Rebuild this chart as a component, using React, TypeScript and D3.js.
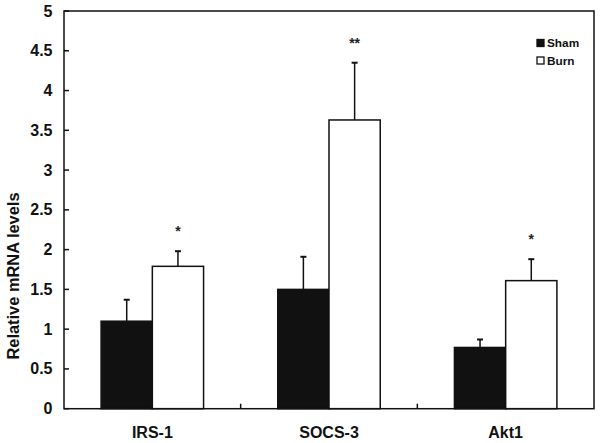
import React from "react";
import * as d3 from "d3";

const categories = ["IRS-1", "SOCS-3", "Akt1"];
const series = ["Sham", "Burn"];
const shamValues = [1.1, 1.5, 0.77];
const shamErrors = [0.27, 0.41, 0.1];
const burnValues = [1.79, 3.63, 1.61];
const burnErrors = [0.19, 0.72, 0.27];
const significance = ["*", "**", "*"];
const yTicks = [0, 0.5, 1, 1.5, 2, 2.5, 3, 3.5, 4, 4.5, 5];

const W = 600, H = 443;
const L = 64, R = 594, T = 11, B = 408.7;
const font = "Arial, 'Liberation Sans', sans-serif";

export default function App() {
  const x = d3.scaleBand<string>().domain(categories).range([L, R]);
  const y = d3.scaleLinear().domain([0, 5]).range([B, T]);
  const bw = x.bandwidth() * 0.29;
  const fills = ["#111", "#fff"];
  const data = [
    { v: shamValues, e: shamErrors },
    { v: burnValues, e: burnErrors },
  ];
  return (
    <svg width={W} height={H} style={{ position: "absolute", left: 0, top: 0 }}>
      <rect x={0} y={0} width={W} height={H} fill="#fff" />
      {categories.map((c, i) => {
        const cx = x(c)! + x.bandwidth() / 2;
        return (
          <g key={c}>
            {data.map((s, j) => {
              const x0 = j === 0 ? cx - bw : cx;
              const top = y(s.v[i]);
              const et = y(s.v[i] + s.e[i]);
              const mx = x0 + bw / 2;
              return (
                <g key={j}>
                  <line x1={mx} x2={mx} y1={top} y2={et} stroke="#111" strokeWidth={1.5} />
                  <line x1={mx - 3} x2={mx + 3} y1={et} y2={et} stroke="#111" strokeWidth={2} />
                  <rect x={x0} y={top} width={bw} height={B - top} fill={fills[j]} stroke="#111" strokeWidth={1.5} />
                </g>
              );
            })}
            <text x={cx + bw / 2} y={y(burnValues[i] + burnErrors[i]) - 15} textAnchor="middle" fontFamily={font} fontSize={14} fontWeight="bold" fill="#222">
              {significance[i]}
            </text>
            <text x={cx} y={437.5} textAnchor="middle" fontFamily={font} fontSize={16} fontWeight="bold" fill="#111">
              {c}
            </text>
          </g>
        );
      })}
      {categories.slice(1).map((c) => (
        <line key={c} x1={x(c)!} x2={x(c)!} y1={B} y2={B - 5} stroke="#111" strokeWidth={1.5} />
      ))}
      <rect x={L} y={T} width={R - L} height={B - T} fill="none" stroke="#111" strokeWidth={1.5} />
      {yTicks.map((t) => (
        <g key={t}>
          <line x1={L} x2={L + 5} y1={y(t)} y2={y(t)} stroke="#111" strokeWidth={1.5} />
          <text x={52.5} y={y(t) + 5.5} textAnchor="end" fontFamily={font} fontSize={16} fontWeight="bold" fill="#111">
            {t}
          </text>
        </g>
      ))}
      <text transform={`translate(18.5,276) rotate(-90)`} textAnchor="middle" fontFamily={font} fontSize={16.4} fontWeight="bold" fill="#111">
        Relative mRNA levels
      </text>
      {series.map((s, j) => (
        <g key={s}>
          <rect x={537} y={39.5 + j * 17.5} width={7} height={7} fill={fills[j]} stroke="#111" strokeWidth={1.3} />
          <text x={547} y={47 + j * 17.5} fontFamily={font} fontSize={11.8} fontWeight="bold" fill="#111">
            {s}
          </text>
        </g>
      ))}
    </svg>
  );
}
